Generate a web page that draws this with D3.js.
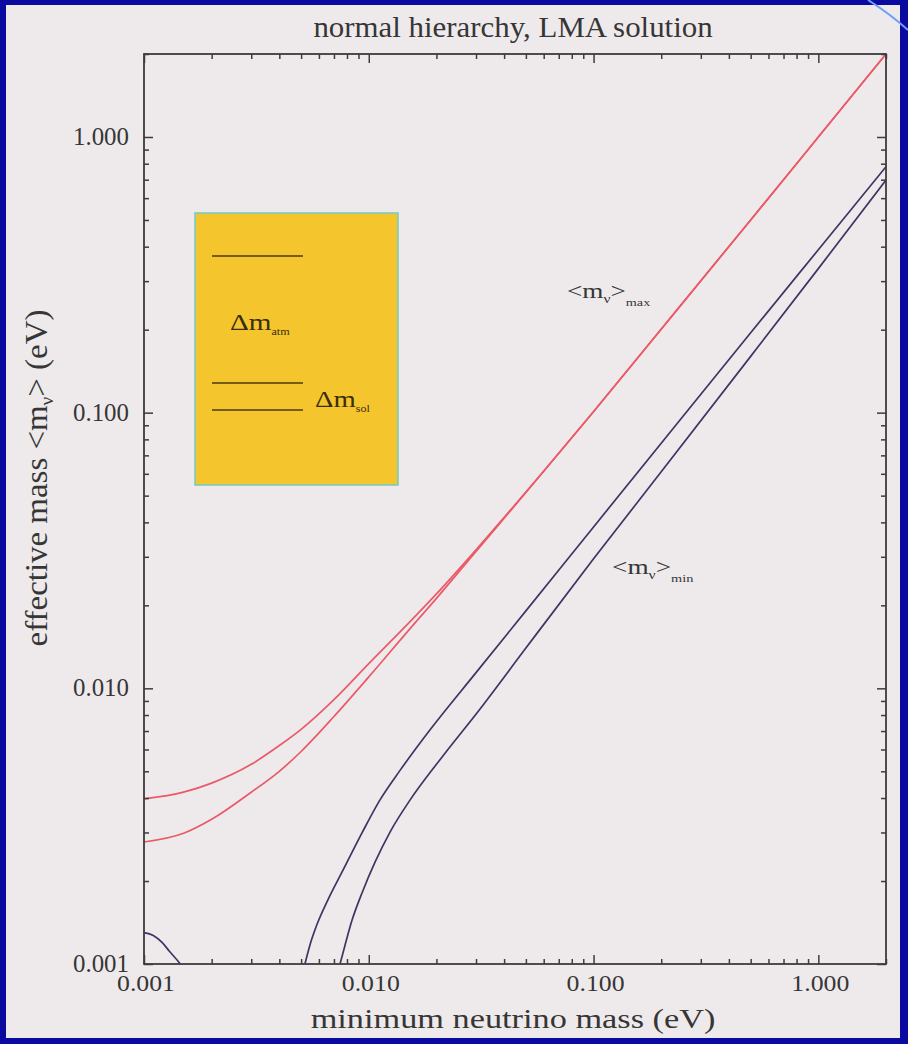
<!DOCTYPE html>
<html>
<head>
<meta charset="utf-8">
<script src="https://cdn.jsdelivr.net/npm/d3@7"></script>
<style>
  html, body { margin: 0; padding: 0; background: #0a0aa0; }
  svg { display: block; }
  text { font-family: "Liberation Serif", "Times New Roman", serif; fill: #363636; }
</style>
</head>
<body>
<svg id="chart" width="908" height="1044"></svg>
<script>
// Effective Majorana mass vs. lightest neutrino mass (normal hierarchy, LMA)

// <m_nu>_max band: upper and lower edges
const maxUpperX = [0.001, 0.0015, 0.002, 0.003, 0.004, 0.005, 0.007, 0.01, 0.015, 0.02, 0.03, 0.05, 0.1, 0.2, 0.5, 1, 2];
const maxUpperY = [0.00397, 0.0042, 0.00453, 0.0053, 0.0062, 0.0071, 0.0091, 0.0123, 0.0172, 0.0220, 0.0318, 0.0515, 0.101, 0.201, 0.50, 1.0, 2.0];
const maxLowerX = [0.001, 0.0015, 0.002, 0.003, 0.004, 0.005, 0.007, 0.01, 0.015, 0.02, 0.03, 0.05, 0.1, 0.2, 0.5, 1, 2];
const maxLowerY = [0.00277, 0.00298, 0.00335, 0.0042, 0.0050, 0.0059, 0.0079, 0.0110, 0.0162, 0.0212, 0.0314, 0.0513, 0.1008, 0.2008, 0.50, 1.0, 2.0];

// <m_nu>_min curves
const minUpperX = [0.0052, 0.00547, 0.00588, 0.00658, 0.00768, 0.00933, 0.0112, 0.0138, 0.0187, 0.03, 0.05, 0.1, 0.2, 0.5, 1, 2];
const minUpperY = [0.0010, 0.00117, 0.00139, 0.00171, 0.00219, 0.00299, 0.00393, 0.00505, 0.00706, 0.0114, 0.0191, 0.0385, 0.0775, 0.195, 0.39, 0.78];
const minLowerX = [0.00745, 0.00784, 0.00842, 0.00933, 0.01066, 0.01243, 0.01525, 0.0207, 0.0312, 0.05, 0.1, 0.2, 0.5, 1, 2];
const minLowerY = [0.0010, 0.00117, 0.00144, 0.00181, 0.00234, 0.00301, 0.00393, 0.0055, 0.0084, 0.0140, 0.0295, 0.061, 0.160, 0.333, 0.698];
const minCornerX = [0.001, 0.0011, 0.0012, 0.0013, 0.00145, 0.0016];
const minCornerY = [0.00130, 0.00127, 0.00120, 0.00111, 0.0010, 0.00088];

// Axis ticks
const majorTicks = [0.001, 0.01, 0.1, 1];
const tickLabels = ["0.001", "0.010", "0.100", "1.000"];
const minorTicks = [];
[0.001, 0.01, 0.1, 1].forEach(d => { for (let k = 2; k <= 9; k++) minorTicks.push(d * k); });

const svg = d3.select("#chart");
const W = 908, H = 1044;
const plot = { left: 144, right: 886, top: 54, bottom: 964 };

// Page background: blue slide border with light panel
svg.append("rect").attr("width", W).attr("height", H).attr("fill", "#0a0aa0");
svg.append("rect").attr("x", 6).attr("y", 5).attr("width", 894).attr("height", 1033).attr("fill", "#eeeaeb");
svg.append("path")
  .attr("d", "M868,0 Q890,14 908,30")
  .attr("fill", "none").attr("stroke", "#6f9cff").attr("stroke-width", 2);

const x = d3.scaleLog().domain([0.001, 2]).range([plot.left, plot.right]);
const y = d3.scaleLog().domain([0.001, 2]).range([plot.bottom, plot.top]);

// Text helper: places text and stretches it horizontally to a given width
function fitText(parent, tx, ty, rot, anchor, size, width, build) {
  const g = parent.append("g").attr("transform", `translate(${tx},${ty}) rotate(${rot})`);
  const t = g.append("text").attr("text-anchor", anchor).attr("font-size", size);
  build(t);
  const w = t.node().getBBox().width;
  if (w > 0 && width) t.attr("transform", `scale(${width / w},1)`);
  return t;
}

// Clip region for the curves
svg.append("clipPath").attr("id", "plotClip")
  .append("rect").attr("x", plot.left).attr("y", plot.top)
  .attr("width", plot.right - plot.left).attr("height", plot.bottom - plot.top);

// Legend: level scheme box
const legend = svg.append("g");
const lg = { x: 195, y: 213, w: 203, h: 272 };
legend.append("rect").attr("x", lg.x).attr("y", lg.y).attr("width", lg.w).attr("height", lg.h)
  .attr("fill", "#f4c52c").attr("stroke", "#79cbc4").attr("stroke-width", 1.6);
[[212, 303, 256], [212, 303, 383], [212, 303, 410]].forEach(([x1, x2, yy]) => {
  legend.append("line").attr("x1", x1).attr("x2", x2).attr("y1", yy).attr("y2", yy)
    .attr("stroke", "#4b3a12").attr("stroke-width", 1.6);
});
fitText(legend, 230, 330, 0, "start", 24, 60, t => {
  t.style("fill", "#3a2e10");
  t.append("tspan").text("Δm");
  t.append("tspan").attr("font-size", 10).attr("dy", 5).text("atm");
});
fitText(legend, 315, 407, 0, "start", 24, 55, t => {
  t.style("fill", "#3a2e10");
  t.append("tspan").text("Δm");
  t.append("tspan").attr("font-size", 10).attr("dy", 5).text("sol");
});

// Curves
const line = d3.line().x(d => x(d[0])).y(d => y(d[1])).curve(d3.curveMonotoneX);
const curves = svg.append("g").attr("clip-path", "url(#plotClip)");
const series = [
  { xs: maxUpperX, ys: maxUpperY, color: "#ea5a68" },
  { xs: maxLowerX, ys: maxLowerY, color: "#ea5a68" },
  { xs: minUpperX, ys: minUpperY, color: "#3d3563" },
  { xs: minLowerX, ys: minLowerY, color: "#3d3563" },
  { xs: minCornerX, ys: minCornerY, color: "#3d3563" }
];
series.forEach(s => {
  curves.append("path").datum(s.xs.map((v, i) => [v, s.ys[i]]))
    .attr("d", line).attr("fill", "none")
    .attr("stroke", s.color).attr("stroke-width", 1.7);
});

// Axes: ticks on all four sides, pointing inward
const axisColor = "#3c3c3c";
[[d3.axisBottom, x, 0, plot.bottom], [d3.axisTop, x, 0, plot.top], [d3.axisLeft, y, plot.left, 0], [d3.axisRight, y, plot.right, 0]]
  .forEach(([gen, sc, tx, ty]) => {
    const gMaj = svg.append("g").attr("transform", `translate(${tx},${ty})`)
      .call(gen(sc).tickValues(majorTicks).tickSizeInner(-9).tickSizeOuter(0).tickFormat(""));
    const gMin = svg.append("g").attr("transform", `translate(${tx},${ty})`)
      .call(gen(sc).tickValues(minorTicks.filter(v => v <= 2)).tickSizeInner(-5).tickSizeOuter(0).tickFormat(""));
    [gMaj, gMin].forEach(g => {
      g.selectAll("path").remove();
      g.selectAll("line").attr("stroke", axisColor).attr("stroke-width", 1.5);
    });
  });

// Plot frame
svg.append("rect").attr("x", plot.left).attr("y", plot.top)
  .attr("width", plot.right - plot.left).attr("height", plot.bottom - plot.top)
  .attr("fill", "none").attr("stroke", axisColor).attr("stroke-width", 1.8);

// Tick labels
majorTicks.forEach((v, i) => {
  fitText(svg, x(v) + 2, 991, 0, "middle", 24, 58, t => t.text(tickLabels[i]));
  fitText(svg, 129, y(v) + 8, 0, "end", 26, 56, t => t.text(tickLabels[i]));
});

// Titles
fitText(svg, 513, 37, 0, "middle", 29, 400, t => t.text("normal hierarchy, LMA solution"));
fitText(svg, 513, 1028, 0, "middle", 28, 405, t => t.text("minimum neutrino mass (eV)"));
fitText(svg, 47, 478, -90, "middle", 31, 337, t => {
  t.append("tspan").text("effective mass <m");
  t.append("tspan").attr("font-size", 18).attr("dy", 6).text("ν");
  t.append("tspan").attr("dy", -6).text("> (eV)");
});

// Curve labels
fitText(svg, 567, 298, 0, "start", 21, 84, t => {
  t.append("tspan").text("<m");
  t.append("tspan").attr("font-size", 12).attr("dy", 5).text("ν");
  t.append("tspan").attr("dy", -5).text(">");
  t.append("tspan").attr("font-size", 11).attr("dy", 8).text("max");
});
fitText(svg, 612, 574, 0, "start", 21, 82, t => {
  t.append("tspan").text("<m");
  t.append("tspan").attr("font-size", 12).attr("dy", 5).text("ν");
  t.append("tspan").attr("dy", -5).text(">");
  t.append("tspan").attr("font-size", 11).attr("dy", 8).text("min");
});
</script>
</body>
</html>
